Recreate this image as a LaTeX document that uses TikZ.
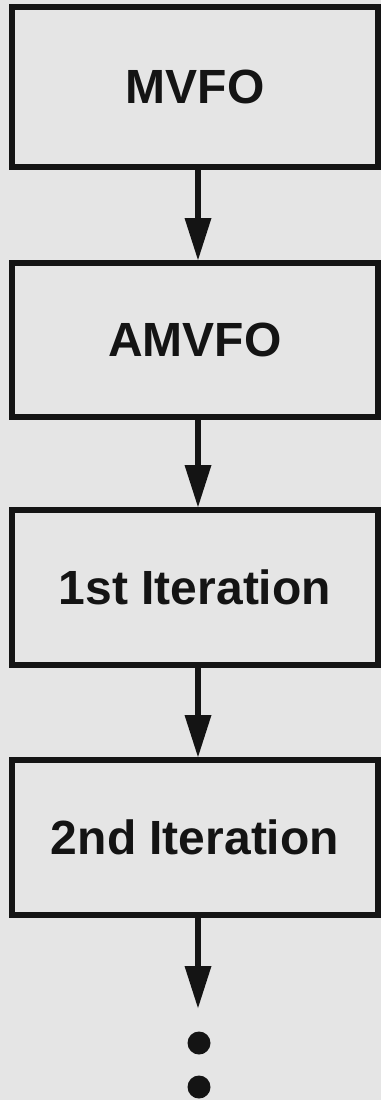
\documentclass[tikz,border=0pt]{standalone}
\usepackage{fontspec}
\setmainfont{Liberation Sans}
\usetikzlibrary{arrows.meta}
\definecolor{paper}{RGB}{229,229,229}
\definecolor{ink}{RGB}{20,20,20}
\tikzset{
  stepbox/.style={draw=ink, line width=6pt, fill=paper, minimum width=366pt,
    inner sep=0pt, font=\bfseries\fontsize{48}{52}\selectfont, text=ink},
  flow/.style={draw=ink, line width=6pt,
    -{Triangle[length=42pt,width=27pt,line width=0pt]}},
  dot/.style={circle, fill=ink, inner sep=0pt, minimum size=23pt}
}
\begin{document}
\begin{tikzpicture}[x=1pt,y=-1pt]
\fill[paper] (0,0) rectangle (381,1100);
\useasboundingbox (0,0) rectangle (381,1100);
\node[stepbox, minimum height=160pt] (b1) at (195,87) {MVFO};
\node[stepbox, minimum height=154pt] (b2) at (195,340) {AMVFO};
\node[stepbox, minimum height=155pt] (b3) at (195,587.5) {1st Iteration};
\node[stepbox, minimum height=155pt] (b4) at (195,837.5) {2nd Iteration};
\coordinate (end) at (198,1008);
\node[dot] (d1) at (199,1043) {};
\node[dot] (d2) at (199,1087) {};
\draw[flow] (b1.south -| 198,0) -- (b2.north -| 198,0);
\draw[flow] (b2.south -| 198,0) -- (b3.north -| 198,0);
\draw[flow] (b3.south -| 198,0) -- (b4.north -| 198,0);
\draw[flow] (b4.south -| 198,0) -- (end);
\end{tikzpicture}
\end{document}
